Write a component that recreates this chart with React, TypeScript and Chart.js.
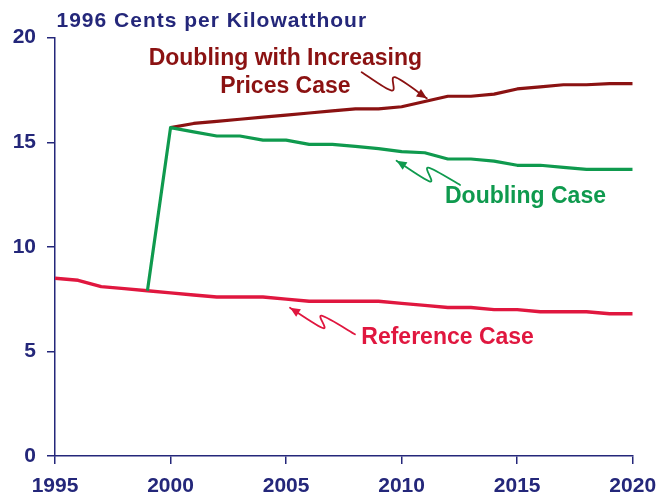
import React, { useEffect, useRef } from "react";
import { Chart, registerables } from "chart.js";

Chart.register(...registerables);

const years = [1995, 1996, 1997, 1998, 1999, 2000, 2001, 2002, 2003, 2004, 2005, 2006, 2007, 2008, 2009, 2010, 2011, 2012, 2013, 2014, 2015, 2016, 2017, 2018, 2019, 2020];
const referenceCase = [8.5, 8.4, 8.1, 8.0, 7.9, 7.8, 7.7, 7.6, 7.6, 7.6, 7.5, 7.4, 7.4, 7.4, 7.4, 7.3, 7.2, 7.1, 7.1, 7.0, 7.0, 6.9, 6.9, 6.9, 6.8, 6.8];
const doublingCase = [null, null, null, null, 7.9, 15.7, 15.5, 15.3, 15.3, 15.1, 15.1, 14.9, 14.9, 14.8, 14.7, 14.55, 14.5, 14.2, 14.2, 14.1, 13.9, 13.9, 13.8, 13.7, 13.7, 13.7];
const doublingPricesCase = [null, null, null, null, null, 15.7, 15.9, 16.0, 16.1, 16.2, 16.3, 16.4, 16.5, 16.6, 16.6, 16.7, 16.95, 17.2, 17.2, 17.3, 17.55, 17.65, 17.75, 17.75, 17.8, 17.8];
const yTicks = [0, 5, 10, 15, 20];
const xTicks = [1995, 2000, 2005, 2010, 2015, 2020];
const titleText = "1996 Cents per Kilowatthour";

const NAVY = "#24277A";
const DARK_RED = "#8B1212";
const GREEN = "#0F9A4E";
const RED = "#E0173F";
const FONT = '"Liberation Sans", Arial, Helvetica, sans-serif';

type Pt = [number, number];
const labels: { lines: string[]; at: Pt; color: string }[] = [
  { lines: ["Doubling with Increasing", "Prices Case"], at: [2004.97, 18.71], color: DARK_RED },
  { lines: ["Doubling Case"], at: [2015.36, 12.1], color: GREEN },
  { lines: ["Reference Case"], at: [2011.99, 5.355], color: RED },
];
const arrows: { pts: Pt[]; color: string }[] = [
  { pts: [[2008.27, 18.35], [2009.57, 17.47], [2009.71, 18.11], [2011.09, 17.1]], color: DARK_RED },
  { pts: [[2012.53, 12.96], [2011.15, 13.79], [2011.23, 13.12], [2009.78, 14.12]], color: GREEN },
  { pts: [[2007.98, 5.82], [2006.54, 6.71], [2006.61, 6.11], [2005.17, 7.09]], color: RED },
];

const toXY = (vals: (number | null)[]) => years.map((yr, i) => ({ x: yr, y: vals[i] }));

const annotationPlugin = {
  id: "annotationsCustom",
  afterDatasetsDraw(chart: any) {
    const { ctx, chartArea, scales } = chart;
    const xs = scales.x;
    const ys = scales.y;
    ctx.save();
    ctx.font = `bold 21px ${FONT}`;
    (ctx as any).letterSpacing = "1px";
    ctx.fillStyle = NAVY;
    ctx.textAlign = "left";
    ctx.textBaseline = "alphabetic";
    ctx.fillText(titleText, chartArea.left + 1.5, chartArea.top - 11);
    ctx.restore();

    ctx.save();
    ctx.font = `bold 23px ${FONT}`;
    ctx.textAlign = "center";
    ctx.textBaseline = "alphabetic";
    for (const l of labels) {
      const px = xs.getPixelForValue(l.at[0]);
      const py = ys.getPixelForValue(l.at[1]);
      ctx.fillStyle = l.color;
      l.lines.forEach((t, i) => ctx.fillText(t, px, py + i * 28.3));
    }
    ctx.restore();

    for (const a of arrows) {
      const p = a.pts.map(([xv, yv]) => [xs.getPixelForValue(xv), ys.getPixelForValue(yv)]);
      ctx.save();
      ctx.strokeStyle = a.color;
      ctx.fillStyle = a.color;
      ctx.lineWidth = 1.8;
      ctx.lineCap = "round";
      ctx.lineJoin = "round";
      ctx.beginPath();
      ctx.moveTo(p[0][0], p[0][1]);
      for (let i = 0; i < p.length - 1; i++) {
        const p0 = p[Math.max(0, i - 1)];
        const p1 = p[i];
        const p2 = p[i + 1];
        const p3 = p[Math.min(p.length - 1, i + 2)];
        const c1x = p1[0] + (p2[0] - p0[0]) / 6;
        const c1y = p1[1] + (p2[1] - p0[1]) / 6;
        const c2x = p2[0] - (p3[0] - p1[0]) / 6;
        const c2y = p2[1] - (p3[1] - p1[1]) / 6;
        ctx.bezierCurveTo(c1x, c1y, c2x, c2y, p2[0], p2[1]);
      }
      ctx.stroke();
      const tip = p[p.length - 1];
      const prev = p[p.length - 2];
      const ang = Math.atan2(tip[1] - prev[1], tip[0] - prev[0]);
      const len = 10;
      const hw = 4.5;
      const bx = tip[0] - Math.cos(ang) * len;
      const by = tip[1] - Math.sin(ang) * len;
      ctx.beginPath();
      ctx.moveTo(tip[0], tip[1]);
      ctx.lineTo(bx + Math.sin(ang) * hw, by - Math.cos(ang) * hw);
      ctx.lineTo(bx - Math.sin(ang) * hw, by + Math.cos(ang) * hw);
      ctx.closePath();
      ctx.fill();
      ctx.restore();
    }
  },
};

export default function App() {
  const canvasRef = useRef<HTMLCanvasElement | null>(null);

  useEffect(() => {
    if (!canvasRef.current) return;
    const tickFont = { family: FONT, size: 21, weight: "bold" as const };
    const chart = new Chart(canvasRef.current, {
      type: "line",
      data: {
        datasets: [
          {
            label: "Doubling Case",
            data: toXY(doublingCase),
            borderColor: GREEN,
            borderWidth: 3.2,
            pointRadius: 0,
            tension: 0,
            fill: false,
            borderJoinStyle: "round",
          },
          {
            label: "Doubling with Increasing Prices Case",
            data: toXY(doublingPricesCase),
            borderColor: DARK_RED,
            borderWidth: 3.2,
            pointRadius: 0,
            tension: 0,
            fill: false,
            borderJoinStyle: "round",
          },
          {
            label: "Reference Case",
            data: toXY(referenceCase),
            borderColor: RED,
            borderWidth: 3.4,
            pointRadius: 0,
            tension: 0,
            fill: false,
            borderJoinStyle: "round",
          },
        ],
      },
      options: {
        responsive: false,
        animation: false,
        layout: { padding: { left: 0, right: 26.3, top: 37.7, bottom: 0 } },
        plugins: {
          legend: { display: false },
          tooltip: { enabled: false },
          title: { display: false },
        },
        scales: {
          x: {
            type: "linear",
            min: 1995,
            max: 2020,
            afterBuildTicks: (s: any) => {
              s.ticks = xTicks.map((v) => ({ value: v }));
            },
            afterFit: (s: any) => {
              s.height = 41;
              s.paddingLeft = 0;
              s.paddingRight = 0;
            },
            ticks: {
              color: NAVY,
              font: tickFont,
              padding: 10,
              maxRotation: 0,
              autoSkip: false,
              callback: (v: any) => String(v),
            },
            grid: { drawOnChartArea: false, drawTicks: true, tickLength: 8, color: NAVY, lineWidth: 1.5 },
            border: { display: true, color: NAVY, width: 1.5 },
          },
          y: {
            min: 0,
            max: 20,
            afterBuildTicks: (s: any) => {
              s.ticks = yTicks.map((v) => ({ value: v }));
            },
            afterFit: (s: any) => {
              s.width = 55;
              s.paddingTop = 0;
              s.paddingBottom = 0;
            },
            ticks: {
              color: NAVY,
              font: tickFont,
              padding: 11,
              callback: (v: any) => String(v),
            },
            grid: { drawOnChartArea: false, drawTicks: true, tickLength: 8, color: NAVY, lineWidth: 1.5 },
            border: { display: true, color: NAVY, width: 1.5 },
          },
        },
      },
      plugins: [annotationPlugin],
    } as any);
    return () => chart.destroy();
  }, []);

  return (
    <div style={{ position: "absolute", left: 0, top: 0, width: 659, height: 497, background: "#fff" }}>
      <canvas ref={canvasRef} width={659} height={497} style={{ display: "block", width: 659, height: 497 }} />
    </div>
  );
}
